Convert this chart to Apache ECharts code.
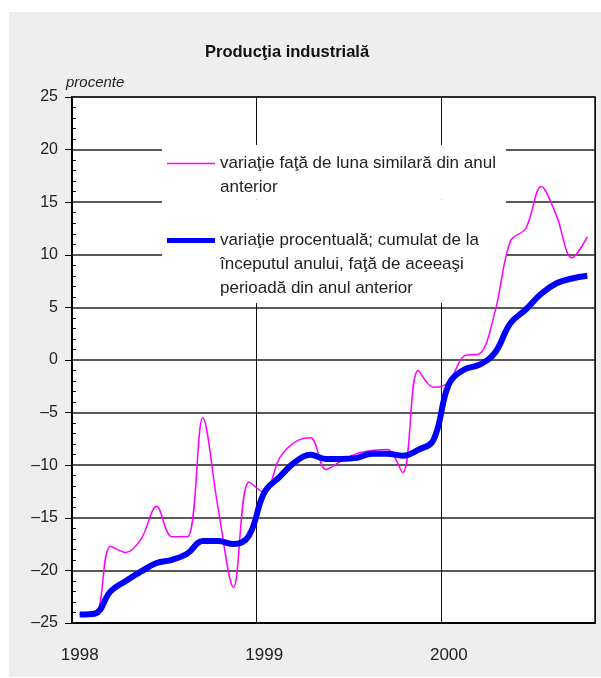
<!DOCTYPE html>
<html>
<head>
<meta charset="utf-8">
<script src="https://cdn.jsdelivr.net/npm/echarts@6/dist/echarts.min.js"></script>
<style>
body { margin: 0; background: #fff; }
#chart { position: absolute; left: 9px; top: 12px; width: 592px; height: 665px; background: #eeeeee; }
</style>
</head>
<body>
<div id="chart"></div>
<script>
// ani afisati pe axa
var years = ['1998', '1999', '2000'];
var monthsPerYear = [12, 12, 10];

// luni (categorii)
var months = [];
for (var y = 0; y < years.length; y++) {
    for (var m = 1; m <= monthsPerYear[y]; m++) {
        months.push(years[y] + '-' + (m < 10 ? '0' + m : m));
    }
}

var numeLunar = 'variaţie faţă de luna similară din anul\nanterior';
var numeCumulat = 'variaţie procentuală; cumulat de la\nînceputul anului, faţă de aceeaşi\nperioadă din anul anterior';

// variatie fata de luna similara din anul anterior
var lunar = [
    -24.2, -24.3, -17.7, -18.3, -17.0, -13.9, -16.8, -16.8, -5.5, -14.1, -21.6, -11.6,
    -12.6, -9.3, -7.8, -7.4, -10.4, -9.6, -8.9, -8.6, -8.5, -10.7, -1.0, -2.6,
    -2.1, 0.4, 0.6, 4.6, 11.3, 12.5, 16.5, 13.7, 9.7, 11.7
];

// cumulat de la inceputul anului
var cumulat = [
    -24.2, -24.1, -22.0, -21.0, -20.1, -19.3, -19.0, -18.4, -17.2, -17.2, -17.5, -16.7,
    -12.6, -11.1, -9.7, -9.0, -9.4, -9.4, -9.3, -8.9, -8.9, -9.1, -8.55, -7.6,
    -2.3, -0.9, -0.45, 0.7, 3.5, 4.8, 6.3, 7.3, 7.75, 8.0
];

var font = "'Liberation Sans', Arial, sans-serif";
var minus = function (v) { return String(v).replace('-', '\u2013'); };

var chart = echarts.init(document.getElementById('chart'));
chart.setOption({
    backgroundColor: 'transparent',
    animation: false,
    title: [{
        text: 'Producţia industrială',
        left: 196, top: 32, padding: 0,
        textStyle: { fontFamily: font, fontSize: 16.5, fontWeight: 'bold', color: '#111' }
    }, {
        text: 'procente',
        left: 57, top: 63, padding: 0,
        textStyle: { fontFamily: font, fontSize: 15, fontStyle: 'italic', fontWeight: 'normal', color: '#222' }
    }],
    // legenda: fundal alb sub linii, peste grila
    legend: [{
        data: [{ name: numeLunar, icon: 'path://M0,0h0.01v0.01h-0.01Z M0,11.25h48v1.5h-48Z M47.99,47.99h0.01v0.01h-0.01Z' }],
        left: 153, top: 133, padding: [6.5, 10, 0, 5],
        z: 1,
        orient: 'vertical',
        itemWidth: 48, itemHeight: 48,
        backgroundColor: '#fff',
        selectedMode: false,
        itemStyle: { borderWidth: 0 },
        textStyle: { fontFamily: font, fontSize: 17, lineHeight: 24, color: '#222' }
    }, {
        data: [{ name: numeCumulat, icon: 'path://M0,0h0.01v0.01h-0.01Z M0,9.5h48v5h-48Z M47.99,71.99h0.01v0.01h-0.01Z' }],
        left: 153, top: 187.5, padding: [29, 27, 2.5, 5],
        z: 1,
        orient: 'vertical',
        itemWidth: 48, itemHeight: 72,
        backgroundColor: '#fff',
        selectedMode: false,
        itemStyle: { borderWidth: 0 },
        textStyle: { fontFamily: font, fontSize: 17, lineHeight: 24, color: '#222' }
    }],
    grid: {
        left: 63, top: 85, right: 6, bottom: 54,
        show: true, backgroundColor: '#fff', borderColor: '#111', borderWidth: 1.5
    },
    xAxis: {
        type: 'category',
        data: months,
        boundaryGap: true,
        axisLine: { onZero: false, lineStyle: { color: '#000', width: 2 } },
        axisTick: { show: false },
        axisLabel: {
            interval: function (i) { return i % 12 === 0; },
            formatter: function (v) { return v.slice(0, 4); },
            margin: 24, fontFamily: font, fontSize: 17, color: '#222'
        },
        splitLine: {
            show: true,
            interval: function (i) { return i % 12 === 0; },
            lineStyle: { color: '#111', width: 1 }
        }
    },
    yAxis: [{
        type: 'value', position: 'left',
        min: -25, max: 25, interval: 5,
        axisLine: { show: true, lineStyle: { color: '#000', width: 2 } },
        axisTick: { show: true, length: 7, lineStyle: { color: '#000', width: 1 } },
        axisLabel: { margin: 14, fontFamily: font, fontSize: 16, color: '#222', formatter: minus },
        splitLine: { show: true, lineStyle: { color: '#222', width: 1.5 } }
    }, {
        type: 'value', position: 'left',
        min: -25, max: 25, interval: 5,
        axisLine: { show: false },
        axisTick: { show: false, inside: true },
        minorTick: { show: true, splitNumber: 5, length: 4, lineStyle: { color: '#000', width: 1 } },
        axisLabel: { show: false },
        splitLine: { show: false }
    }],
    series: [{
        name: numeLunar,
        type: 'line',
        data: lunar,
        smooth: 0.35,
        symbol: 'none',
        z: 3,
        lineStyle: { color: '#ff00ff', width: 1.5 },
        itemStyle: { color: '#ff00ff' }
    }, {
        name: numeCumulat,
        type: 'line',
        data: cumulat,
        smooth: 0.4,
        symbol: 'none',
        z: 4,
        lineStyle: { color: '#0000ff', width: 6 },
        itemStyle: { color: '#0000ff' }
    }]
});
</script>
</body>
</html>
